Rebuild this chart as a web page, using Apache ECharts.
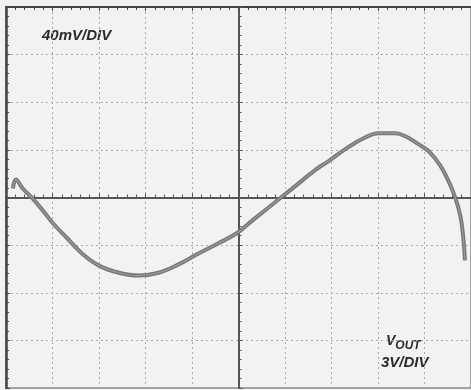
<!DOCTYPE html>
<html>
<head>
<meta charset="utf-8">
<script src="https://cdn.jsdelivr.net/npm/echarts@6/dist/echarts.min.js"></script>
<style>
  html, body { margin: 0; padding: 0; background: #f2f2f2; }
  #chart { width: 471px; height: 390px; }
</style>
</head>
<body>
<div id="chart"></div>
<script>
// Trace position in screen divisions (x: -5..5, y: -4..4 around the graticule centre)
const traceX = [-4.85, -4.79, -4.64, -4.43, -4.21, -4.0, -3.70, -3.36, -3.0, -2.57, -2.15, -1.72, -1.30, -0.87, -0.45, -0.02, 0.30, 0.62, 0.94, 1.26, 1.64, 1.96, 2.32, 2.68, 3.02, 3.38, 3.60, 3.85, 4.09, 4.34, 4.51, 4.66, 4.77, 4.83, 4.87];
const traceY = [0.19, 0.38, 0.19, -0.02, -0.27, -0.53, -0.84, -1.18, -1.43, -1.58, -1.64, -1.58, -1.41, -1.18, -0.97, -0.74, -0.48, -0.23, 0.02, 0.27, 0.57, 0.78, 1.03, 1.24, 1.35, 1.35, 1.28, 1.13, 0.97, 0.67, 0.36, 0.0, -0.38, -0.80, -1.32];

// Scale annotations
const scaleTop = '40mV/DIV';
const scaleOutName = 'V';
const scaleOutSub = 'OUT';
const scaleOut = '3V/DIV';

const points = traceX.map((x, i) => [x, traceY[i]]);

const gridColor = '#a8a8a8';
const axisColor = '#555';
const labelFont = 'italic bold 15px "Liberation Sans", Arial, sans-serif';

const chart = echarts.init(document.getElementById('chart'), null, { renderer: 'canvas' });

const dashed = { show: true, lineStyle: { color: gridColor, width: 1, type: [2, 3] } };

chart.setOption({
  backgroundColor: '#f2f2f2',
  animation: false,
  grid: { left: 6, top: 7, width: 470, height: 381, show: true, borderColor: '#888', borderWidth: 1.5 },
  xAxis: [
    {
      type: 'value', min: -5, max: 5, interval: 1,
      axisLine: { show: true, onZero: true, lineStyle: { color: axisColor, width: 2 } },
      axisTick: { show: true, inside: true, length: 4, lineStyle: { color: axisColor } },
      minorTick: { show: true, splitNumber: 5, length: 3, lineStyle: { color: axisColor } },
      axisLabel: { show: false },
      splitLine: dashed
    },
    {
      type: 'value', min: -5, max: 5, interval: 1, position: 'top',
      axisLine: { show: true, onZero: false, lineStyle: { color: '#444', width: 2 } },
      axisTick: { show: true, inside: true, length: 4, lineStyle: { color: '#444' } },
      minorTick: { show: true, splitNumber: 5, length: 3, lineStyle: { color: '#444' } },
      axisLabel: { show: false },
      splitLine: { show: false }
    }
  ],
  yAxis: [
    {
      type: 'value', min: -4, max: 4, interval: 1,
      axisLine: { show: true, onZero: true, lineStyle: { color: axisColor, width: 2 } },
      axisTick: { show: true, inside: true, length: 4, lineStyle: { color: axisColor } },
      minorTick: { show: true, splitNumber: 5, length: 3, lineStyle: { color: axisColor } },
      axisLabel: { show: false },
      splitLine: dashed
    },
    {
      type: 'value', min: -4, max: 4, interval: 1, position: 'left',
      axisLine: { show: true, onZero: false, lineStyle: { color: '#444', width: 2.5 } },
      axisTick: { show: true, inside: true, length: 4, lineStyle: { color: '#444' } },
      minorTick: { show: true, splitNumber: 5, length: 3, lineStyle: { color: '#444' } },
      axisLabel: { show: false },
      splitLine: { show: false }
    }
  ],
  series: [
    {
      type: 'line',
      xAxisIndex: 0, yAxisIndex: 0,
      data: points,
      smooth: 0.4,
      symbol: 'none',
      lineStyle: { color: '#777', width: 4 },
      z: 5
    },
    {
      type: 'line',
      xAxisIndex: 0, yAxisIndex: 0,
      data: points,
      smooth: 0.4,
      symbol: 'none',
      lineStyle: { color: '#9a9a9a', width: 1.2 },
      z: 6
    }
  ],
  graphic: [
    {
      type: 'text', left: 42, top: 28,
      style: { text: scaleTop, font: labelFont, fill: '#2a2a2a' }
    },
    {
      type: 'text', left: 386, top: 334,
      style: {
        text: '{v|' + scaleOutName + '}{s|' + scaleOutSub + '}',
        rich: {
          v: { font: 'italic bold 14px "Liberation Sans", Arial, sans-serif', fill: '#2a2a2a' },
          s: { font: 'italic bold 12px "Liberation Sans", Arial, sans-serif', fill: '#2a2a2a', padding: [9, 0, 0, 0] }
        }
      }
    },
    {
      type: 'text', left: 381, top: 355,
      style: { text: scaleOut, font: labelFont, fill: '#2a2a2a' }
    }
  ]
});
</script>
</body>
</html>
